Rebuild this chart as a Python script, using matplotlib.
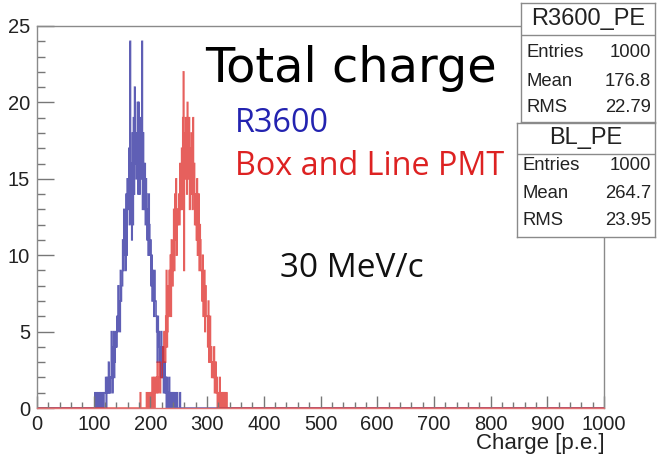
import numpy as np
import matplotlib
matplotlib.use("Agg")
import matplotlib.pyplot as plt
from matplotlib.ticker import MultipleLocator

# ---------------- data (1 p.e. bins) ----------------
blue_start = 100
blue_counts = [
    0, 0, 1, 0, 0, 1, 0, 0, 1, 0,
    0, 1, 0, 1, 0, 0, 1, 0, 1, 1,
    1, 2, 0, 1, 2, 1, 3, 1, 2, 1,
    2, 5, 3, 1, 4, 5, 2, 3, 4, 5,
    4, 6, 5, 8, 6, 7, 5, 9, 7, 8,
    8, 11, 9, 13, 10, 12, 9, 14, 10, 15,
    13, 15, 17, 12, 24, 14, 16, 11, 18, 12,
    19, 14, 21, 16, 18, 15, 17, 20, 14, 20,
    17, 14, 19, 16, 15, 24, 13, 18, 14, 13,
    16, 12, 15, 14, 11, 13, 10, 14, 12, 10,
    11, 8, 10, 7, 9, 8, 6, 9, 7, 7,
    6, 5, 3, 6, 4, 5, 3, 4, 2, 5,
    3, 2, 4, 1, 2, 3, 1, 2, 0, 2,
    1, 0, 1, 2, 0, 1, 0, 1, 0, 1,
    0, 1, 0, 0, 1, 0, 0, 1, 0, 0,
    0, 0, 1,
]
red_start = 180
red_counts = [
    0, 0, 1, 0, 0, 0, 0, 0, 0, 0,
    0, 0, 0, 1, 0, 0, 1, 0, 0, 1,
    0, 1, 0, 2, 0, 1, 2, 0, 1, 2,
    1, 2, 3, 1, 2, 2, 3, 1, 2, 2,
    2, 3, 4, 3, 5, 4, 3, 6, 9, 4,
    5, 8, 6, 9, 7, 10, 6, 11, 8, 8,
    10, 13, 9, 14, 11, 15, 10, 13, 12, 13,
    14, 12, 16, 13, 15, 17, 13, 19, 22, 9,
    18, 15, 19, 16, 14, 20, 17, 15, 19, 13,
    17, 14, 18, 15, 13, 19, 14, 16, 12, 14,
    13, 11, 15, 10, 12, 14, 9, 12, 11, 9,
    9, 7, 10, 6, 8, 9, 5, 8, 6, 6,
    6, 4, 7, 3, 5, 6, 3, 4, 2, 2,
    3, 2, 4, 1, 2, 3, 1, 2, 0, 1,
    1, 0, 2, 0, 1, 1, 0, 1, 0, 1,
    0, 1, 0, 0, 1, 0,
]
n_bins = 1000
x_range = (0, 1000)

stats_r3600 = ["R3600_PE", ["Entries", "Mean", "RMS"], ["1000", "176.8", "22.79"]]
stats_bl = ["BL_PE", ["Entries", "Mean", "RMS"], ["1000", "264.7", "23.95"]]

# ---------------- figure ----------------
W, H = 657, 457
fig = plt.figure(figsize=(W / 100, H / 100), dpi=100)
fig.patch.set_facecolor("white")

def fx(px):
    return px / W

def fy(py):
    return 1 - py / H

ax = fig.add_axes([fx(37), fy(408), (604 - 37) / W, (408 - 26) / H])

edges = np.linspace(x_range[0], x_range[1], n_bins + 1)

def full_hist(start, counts):
    arr = np.zeros(n_bins)
    arr[start:start + len(counts)] = counts
    return arr

blue_col = "#2a2a9c"
red_col = "#de2b27"
ax.stairs(full_hist(blue_start, blue_counts), edges, color=blue_col, lw=1.1, alpha=0.75)
ax.stairs(full_hist(red_start, red_counts), edges, color=red_col, lw=1.1, alpha=0.75)

ax.set_xlim(*x_range)
ax.set_ylim(0, 25)

gray = "#8a8a8a"
for s in ["left", "top", "right"]:
    ax.spines[s].set_color(gray)
    ax.spines[s].set_linewidth(1.0)
ax.spines["bottom"].set_color("#e07070")
ax.spines["bottom"].set_linewidth(1.0)

ax.xaxis.set_major_locator(MultipleLocator(100))
ax.xaxis.set_minor_locator(MultipleLocator(20))
ax.yaxis.set_major_locator(MultipleLocator(5))
ax.yaxis.set_minor_locator(MultipleLocator(1))

tick_font = "Liberation Sans"
ax.tick_params(axis="x", which="major", direction="in", length=8.3, width=1,
               color="#777777", pad=5, labelsize=14.5, labelcolor="#222222")
ax.tick_params(axis="x", which="minor", direction="in", length=4.1, width=1, color="#777777")
ax.tick_params(axis="y", which="major", direction="in", length=12.2, width=1,
               color="#777777", pad=5, labelsize=14.5, labelcolor="#222222")
ax.tick_params(axis="y", which="minor", direction="in", length=6.1, width=1, color="#777777")
for lab in ax.get_xticklabels() + ax.get_yticklabels():
    lab.set_fontfamily(tick_font)

fig.text(fx(605), fy(449), "Charge [p.e.]", ha="right", va="baseline",
         fontsize=16, family=tick_font, color="#222222")

# annotations
fig.text(fx(205), fy(82), "Total charge", ha="left", va="baseline",
         fontsize=34.5, family="DejaVu Sans", color="black")
fig.text(fx(235), fy(132), "R3600", ha="left", va="baseline",
         fontsize=23.3, family="Open Sans", color="#2323b0")
fig.text(fx(235), fy(175), "Box and Line PMT", ha="left", va="baseline",
         fontsize=23.3, family="Open Sans", color="#dd2222")
fig.text(fx(280), fy(277), "30 MeV/c", ha="left", va="baseline",
         fontsize=24, family="Open Sans", color="#111111")

# stat boxes
def stat_box(x0, y0, x1, y1, y_sep, header_y, row_ys, stats):
    bax = fig.add_axes([fx(x0), fy(y1), (x1 - x0) / W, (y1 - y0) / H])
    bax.set_xlim(x0, x1)
    bax.set_ylim(y1, y0)
    bax.set_xticks([])
    bax.set_yticks([])
    bax.set_facecolor("white")
    for s in bax.spines.values():
        s.set_color(gray)
        s.set_linewidth(1.0)
    bax.plot([x0, x1], [y_sep, y_sep], color=gray, lw=1.0)
    bax.text((x0 + x1) / 2, header_y, stats[0], ha="center", va="center",
             fontsize=17, family=tick_font, color="#222222")
    for ry, name, val in zip(row_ys, stats[1], stats[2]):
        bax.text(x0 + 6, ry, name, ha="left", va="center",
                 fontsize=13.3, family=tick_font, color="#222222")
        bax.text(x1 - 4, ry, val, ha="right", va="center",
                 fontsize=13.3, family=tick_font, color="#222222")

stat_box(521, 3, 655, 122, 35, 19, [53, 81, 108], stats_r3600)
stat_box(517, 123, 655, 237, 154, 138, [166, 193, 220], stats_bl)

fig.savefig("out.png", dpi=100)
